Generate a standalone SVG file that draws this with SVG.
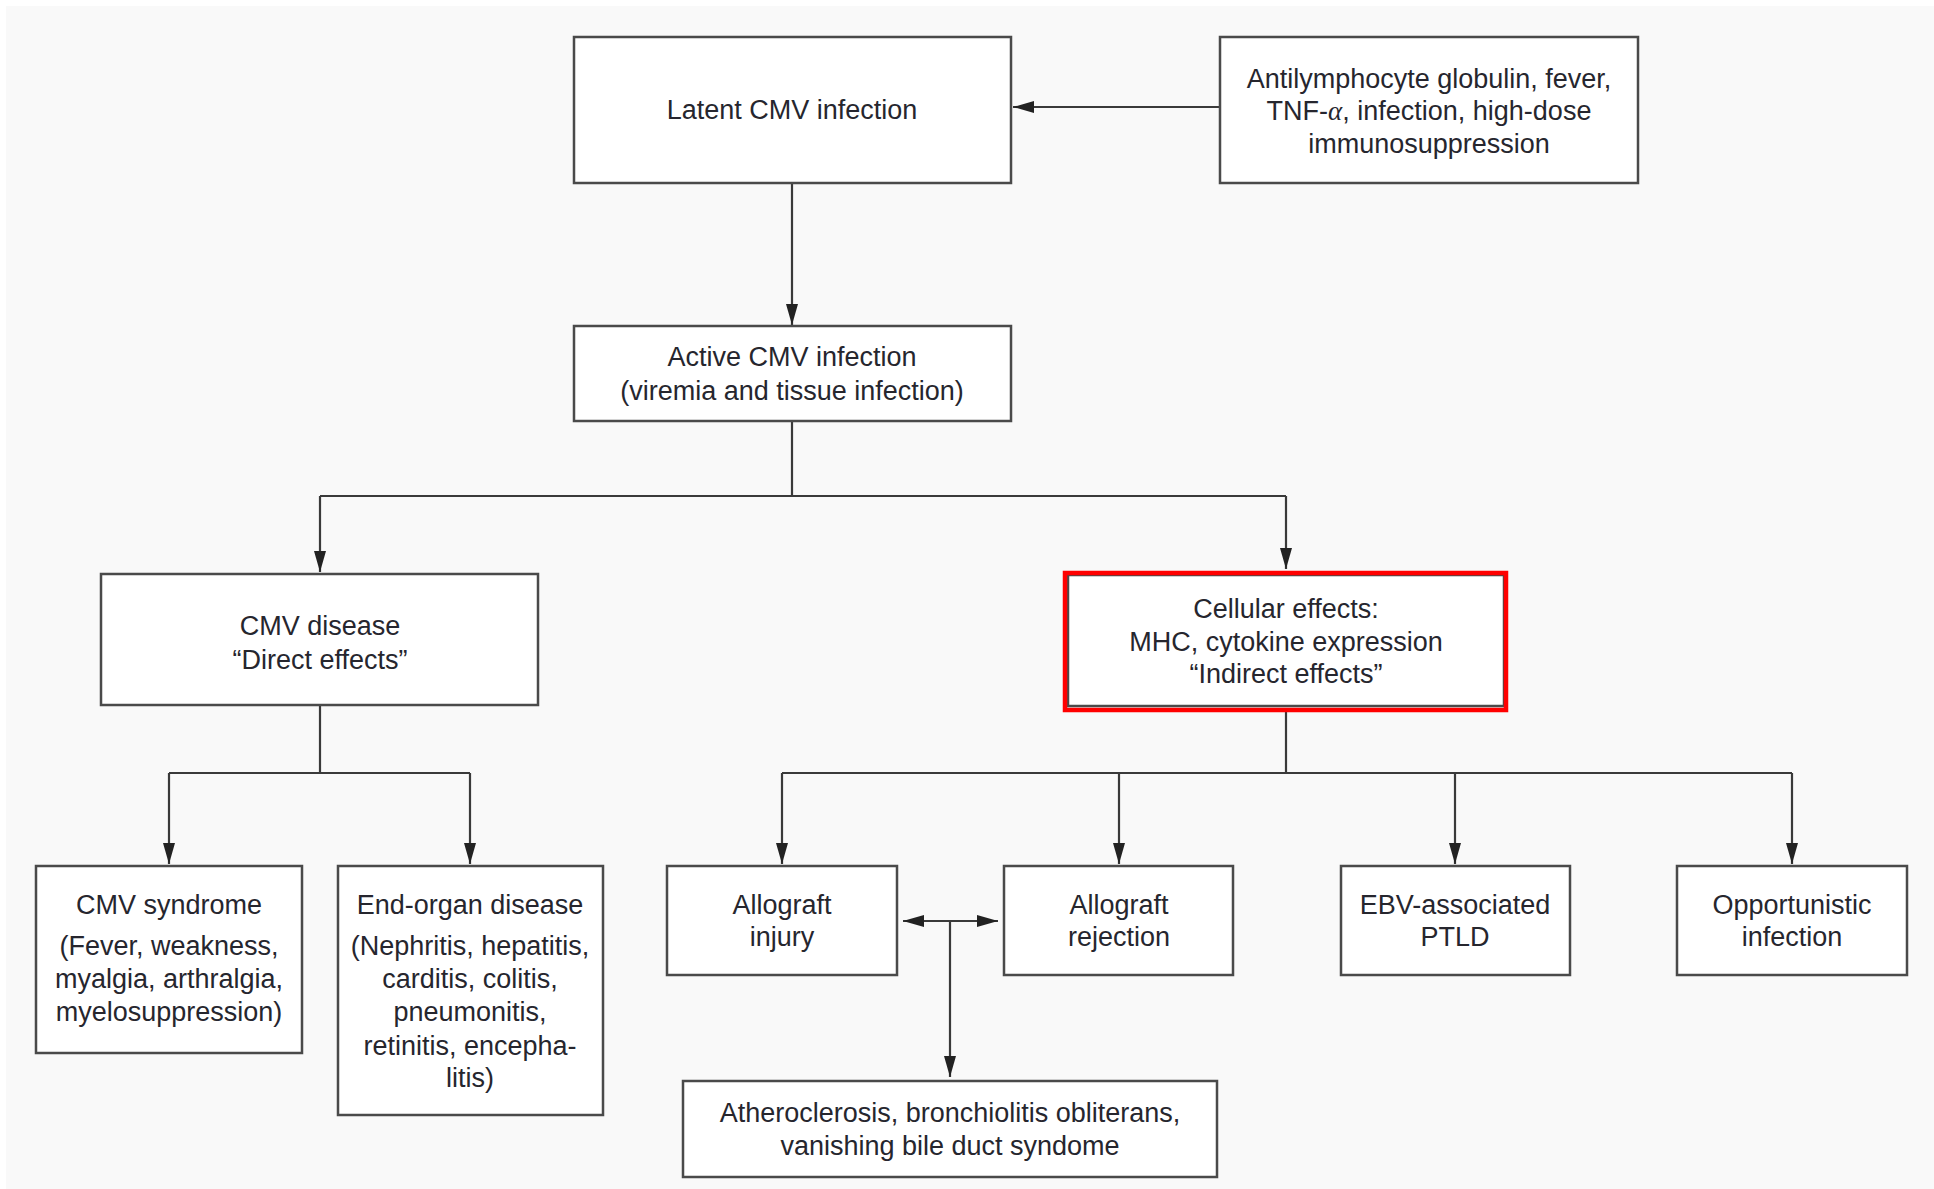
<svg xmlns="http://www.w3.org/2000/svg" width="1934" height="1189" viewBox="0 0 1934 1189">
<style>
.box{fill:#ffffff;stroke:#4a4a4a;stroke-width:2.5}
.hl{fill:none;stroke:#ff0000;stroke-width:4.5}
.t{font-family:"Liberation Sans",Arial,sans-serif;font-size:27px;fill:#26262e;text-anchor:middle}
.c{fill:none;stroke:#3a3a3a;stroke-width:2.2}
</style>
<defs>
<marker id="ah" markerWidth="21" markerHeight="12" refX="21" refY="6" orient="auto" markerUnits="userSpaceOnUse">
<path d="M0,0 L21,6 L0,12 Z" fill="#222"/>
</marker>
<marker id="ahs" markerWidth="21" markerHeight="12" refX="0" refY="6" orient="auto" markerUnits="userSpaceOnUse">
<path d="M21,0 L0,6 L21,12 Z" fill="#222"/>
</marker>
</defs>
<rect x="0" y="0" width="1934" height="1189" fill="#ffffff"/>
<rect x="6" y="6" width="1928" height="1183" fill="#f9f9f9"/>

<g id="connectors">
<path class="c" d="M1220,107 L1013,107" marker-end="url(#ah)"/>
<path class="c" d="M792,184 L792,325" marker-end="url(#ah)"/>
<path class="c" d="M792,421 L792,496 M320,496 L1286,496"/>
<path class="c" d="M320,496 L320,572" marker-end="url(#ah)"/>
<path class="c" d="M1286,496 L1286,569" marker-end="url(#ah)"/>
<path class="c" d="M320,705 L320,773 M169,773 L470,773"/>
<path class="c" d="M169,773 L169,864" marker-end="url(#ah)"/>
<path class="c" d="M470,773 L470,864" marker-end="url(#ah)"/>
<path class="c" d="M1286,712 L1286,773 M782,773 L1792,773"/>
<path class="c" d="M782,773 L782,864" marker-end="url(#ah)"/>
<path class="c" d="M1119,773 L1119,864" marker-end="url(#ah)"/>
<path class="c" d="M1455,773 L1455,864" marker-end="url(#ah)"/>
<path class="c" d="M1792,773 L1792,864" marker-end="url(#ah)"/>
<path class="c" d="M903,921 L998,921" marker-start="url(#ahs)" marker-end="url(#ah)"/>
<path class="c" d="M950,921 L950,1077" marker-end="url(#ah)"/>
</g>

<g id="latent">
<rect class="box" x="574" y="37" width="437" height="146"/>
<text class="t" x="792" y="119">Latent CMV infection</text>
</g>
<g id="antilymphocyte">
<rect class="box" x="1220" y="37" width="418" height="146"/>
<text class="t" x="1429" y="88">Antilymphocyte globulin, fever,</text>
<text class="t" x="1429" y="120">TNF-<tspan font-family="'Liberation Serif',serif" font-style="italic">α</tspan>, infection, high-dose</text>
<text class="t" x="1429" y="153">immunosuppression</text>
</g>
<g id="active">
<rect class="box" x="574" y="326" width="437" height="95"/>
<text class="t" x="792" y="366">Active CMV infection</text>
<text class="t" x="792" y="400">(viremia and tissue infection)</text>
</g>
<g id="cmv-disease">
<rect class="box" x="101" y="574" width="437" height="131"/>
<text class="t" x="320" y="635">CMV disease</text>
<text class="t" x="320" y="669">“Direct effects”</text>
</g>
<g id="cellular">
<rect class="box" x="1068" y="575" width="436" height="131"/>
<rect class="hl" x="1065" y="573" width="441" height="137"/>
<text class="t" x="1286" y="618">Cellular effects:</text>
<text class="t" x="1286" y="651">MHC, cytokine expression</text>
<text class="t" x="1286" y="683">“Indirect effects”</text>
</g>
<g id="cmv-syndrome">
<rect class="box" x="36" y="866" width="266" height="187"/>
<text class="t" x="169" y="914">CMV syndrome</text>
<text class="t" x="169" y="955">(Fever, weakness,</text>
<text class="t" x="169" y="988">myalgia, arthralgia,</text>
<text class="t" x="169" y="1021">myelosuppression)</text>
</g>
<g id="end-organ">
<rect class="box" x="338" y="866" width="265" height="249"/>
<text class="t" x="470" y="914">End-organ disease</text>
<text class="t" x="470" y="955">(Nephritis, hepatitis,</text>
<text class="t" x="470" y="988">carditis, colitis,</text>
<text class="t" x="470" y="1021">pneumonitis,</text>
<text class="t" x="470" y="1055">retinitis, encepha-</text>
<text class="t" x="470" y="1087">litis)</text>
</g>
<g id="allograft-injury">
<rect class="box" x="667" y="866" width="230" height="109"/>
<text class="t" x="782" y="914">Allograft</text>
<text class="t" x="782" y="946">injury</text>
</g>
<g id="allograft-rejection">
<rect class="box" x="1004" y="866" width="229" height="109"/>
<text class="t" x="1119" y="914">Allograft</text>
<text class="t" x="1119" y="946">rejection</text>
</g>
<g id="ebv">
<rect class="box" x="1341" y="866" width="229" height="109"/>
<text class="t" x="1455" y="914">EBV-associated</text>
<text class="t" x="1455" y="946">PTLD</text>
</g>
<g id="opportunistic">
<rect class="box" x="1677" y="866" width="230" height="109"/>
<text class="t" x="1792" y="914">Opportunistic</text>
<text class="t" x="1792" y="946">infection</text>
</g>
<g id="atheroclerosis">
<rect class="box" x="683" y="1081" width="534" height="96"/>
<text class="t" x="950" y="1122">Atheroclerosis, bronchiolitis obliterans,</text>
<text class="t" x="950" y="1155">vanishing bile duct syndome</text>
</g>
</svg>
